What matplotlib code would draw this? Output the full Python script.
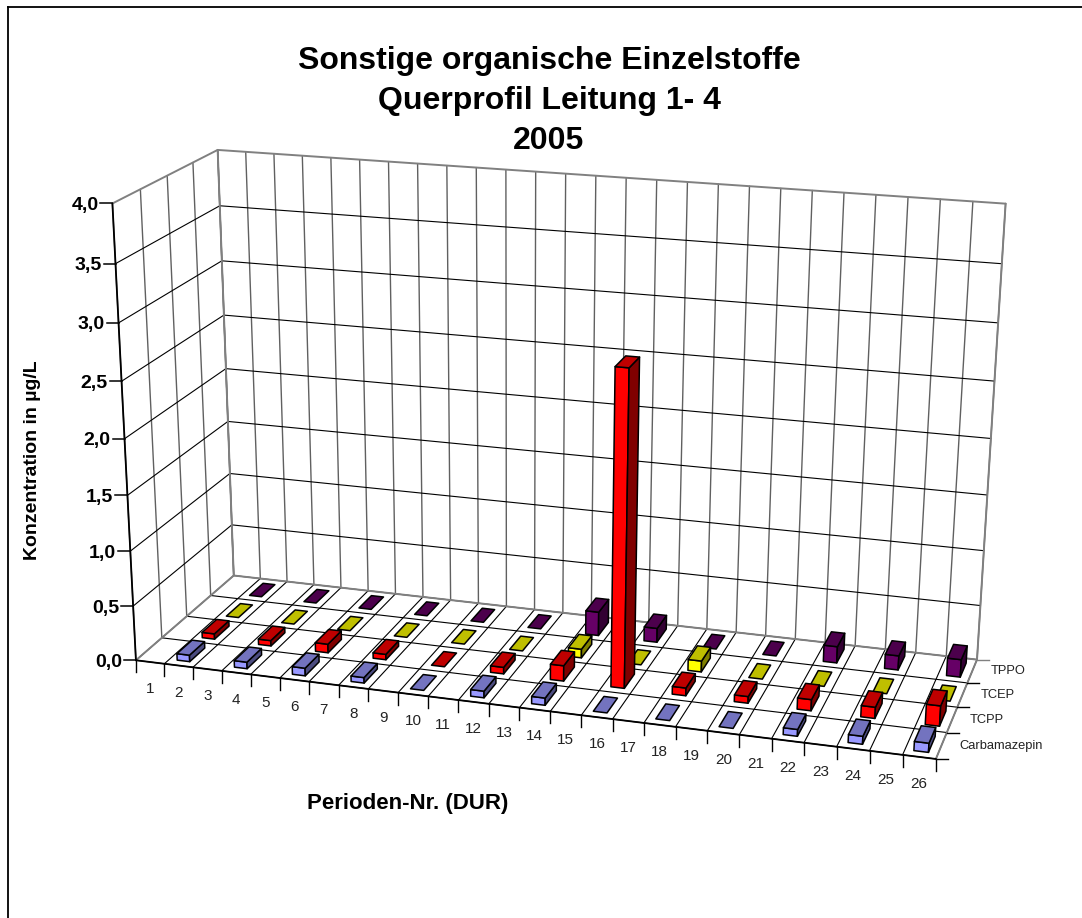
import numpy as np
import matplotlib
matplotlib.use("Agg")
import matplotlib.pyplot as plt
from matplotlib.patches import Polygon

plt.rcParams['font.family'] = ['Liberation Sans', 'DejaVu Sans']

periods = list(range(1, 27))
series_names = ["Carbamazepin", "TCPP", "TCEP", "TPPO"]
bar_periods = [2, 4, 6, 8, 10, 12, 14, 16, 18, 20, 22, 24, 26]
carbamazepin = [0.06, 0.06, 0.07, 0.05, 0.0, 0.06, 0.065, 0.0, 0.0, 0.0, 0.06, 0.07, 0.08]
tcpp = [0.05, 0.05, 0.08, 0.05, 0.0, 0.06, 0.14, 2.8, 0.07, 0.06, 0.1, 0.1, 0.18]
tcep = [0.0, 0.0, 0.0, 0.0, 0.0, 0.0, 0.08, 0.0, 0.1, 0.0, 0.0, 0.0, 0.0]
tppo = [0.0, 0.0, 0.0, 0.0, 0.0, 0.0, 0.22, 0.13, 0.0, 0.0, 0.15, 0.13, 0.16]
z_ticks = [0.0, 0.5, 1.0, 1.5, 2.0, 2.5, 3.0, 3.5, 4.0]
z_labels = ["0,0", "0,5", "1,0", "1,5", "2,0", "2,5", "3,0", "3,5", "4,0"]

# colours per series: front, top, side
colors = [("#9999ff", "#7373bf", "#4c4c80"),
          ("#ff0000", "#bf0000", "#800000"),
          ("#ffff00", "#bfbf00", "#808000"),
          ("#660066", "#4c004c", "#330033")]

# pixel positions of the plot box corners, used to fit the perspective
world = [(0, 0, 0), (26, 0, 0), (0, 4, 0), (26, 4, 0), (0, 0, 4), (0, 4, 4), (26, 4, 4), (13, 0, 0)]
pixel = [(135, 660), (935, 759), (234, 575), (977, 660), (112.7, 203.3), (217.3, 150.7), (1005.7, 203), (521, 708)]


def fit_camera():
    rows = []
    for (x, y, z), (u, v) in zip(world, pixel):
        rows.append([x, y, z, 1, 0, 0, 0, 0, -u*x, -u*y, -u*z, -u])
        rows.append([0, 0, 0, 0, x, y, z, 1, -v*x, -v*y, -v*z, -v])
    return np.linalg.svd(np.array(rows, dtype=float))[2][-1].reshape(3, 4)


cam = fit_camera()


def proj(x, y, z):
    u, v, w = cam @ np.array([x, y, z, 1.0])
    return u/w, v/w


def line(ax, a, b, color="black", lw=0.8, zorder=1):
    pa, pb = proj(*a), proj(*b)
    ax.plot([pa[0], pb[0]], [pa[1], pb[1]], color=color, lw=lw, zorder=zorder, solid_capstyle="round")


def face(ax, pts, color, zorder):
    ax.add_patch(Polygon([proj(*p) for p in pts], closed=True, facecolor=color, edgecolor="black",
                         lw=1.1, joinstyle="round", zorder=zorder))


def bar(ax, x, y, h, cols, zorder):
    x0, x1 = x+0.27, x+0.71
    y0, y1 = y+0.2, y+0.8
    if h > 0:
        face(ax, [(x0, y0, 0), (x1, y0, 0), (x1, y0, h), (x0, y0, h)], cols[0], zorder)
        face(ax, [(x1, y0, 0), (x1, y1, 0), (x1, y1, h), (x1, y0, h)], cols[2], zorder)
    face(ax, [(x0, y0, h), (x1, y0, h), (x1, y1, h), (x0, y1, h)], cols[1], zorder)


fig = plt.figure(figsize=(10.82, 9.18), dpi=100)
ax = fig.add_axes([0, 0, 1, 1])
ax.set_xlim(0, 1082)
ax.set_ylim(918, 0)
ax.axis("off")

# outer frame, only left and top are in the picture
ax.plot([7.5, 7.5], [918, 7], color="black", lw=1.3)
ax.plot([7.5, 1082], [7, 7], color="black", lw=1.3)

grey = "#808080"
n_x = len(periods)
n_y = len(series_names)

# walls and floor grid
for i in range(n_x+1):
    line(ax, (i, 0, 0), (i, n_y, 0))
    line(ax, (i, n_y, 0), (i, n_y, 4), color="#606060", lw=1.0)
for j in range(n_y+1):
    line(ax, (0, j, 0), (n_x, j, 0))
    line(ax, (0, j, 0), (0, j, 4), color="#606060", lw=1.0)
for z in z_ticks[1:-1]:
    line(ax, (0, 0, z), (0, n_y, z))
    line(ax, (0, n_y, z), (n_x, n_y, z))
line(ax, (0, 0, 4), (0, n_y, 4), color=grey, lw=1.4)
line(ax, (0, n_y, 4), (n_x, n_y, 4), color=grey, lw=1.4)
line(ax, (n_x, n_y, 0), (n_x, n_y, 4), color=grey, lw=1.4)
line(ax, (0, n_y, 0), (0, n_y, 4), color=grey, lw=1.4)
line(ax, (0, 0, 0), (0, n_y, 0), color=grey, lw=1.4)
line(ax, (0, n_y, 0), (n_x, n_y, 0), color=grey, lw=1.4)
line(ax, (n_x, 0, 0), (n_x, n_y, 0), color=grey, lw=1.4)

# axes
line(ax, (0, 0, 0), (n_x, 0, 0), lw=1.3, zorder=2)
line(ax, (0, 0, 0), (0, 0, 4), lw=1.3, zorder=2)

for i in range(n_x+1):
    u, v = proj(i, 0, 0)
    ax.plot([u, u], [v, v+12], color="black", lw=1.0)
for i, p in enumerate(periods):
    u, v = proj(i+0.5, 0, 0)
    ax.text(u, v+27, str(p), fontsize=11, ha="center", va="center", color="#222222")
for z, lab in zip(z_ticks, z_labels):
    u, v = proj(0, 0, z)
    ax.plot([u-12, u], [v, v], color="black", lw=1.1)
    ax.text(u-14, v+2, lab, fontsize=14, fontweight="bold", ha="right", va="center")
for j in range(n_y+1):
    u, v = proj(n_x, j, 0)
    ax.plot([u, u+12], [v, v], color="black" if j < n_y else grey, lw=1.0)
for j, name in enumerate(series_names):
    u, v = proj(n_x, j+0.5, 0)
    ax.text(u+18, v, name, fontsize=9.3, ha="left", va="center", color="#222222")

# bars, back row first
rows = [carbamazepin, tcpp, tcep, tppo]
for j in range(n_y-1, -1, -1):
    for p, h in zip(bar_periods, rows[j]):
        bar(ax, p-1, j, h, colors[j], 10+n_y-j)

ax.text(549, 61, "Sonstige organische Einzelstoffe", fontsize=23, fontweight="bold", ha="center", va="center")
ax.text(549, 101, "Querprofil Leitung 1- 4", fontsize=23, fontweight="bold", ha="center", va="center")
ax.text(549, 141, "2005", fontsize=23, fontweight="bold", ha="center", va="center")
ax.text(33, 460, "Konzentration in µg/L", fontsize=14, fontweight="bold", rotation=90, ha="center", va="center")
ax.text(408, 803, "Perioden-Nr. (DUR)", fontsize=16, fontweight="bold", ha="center", va="center")

fig.savefig("out.png", dpi=100)
